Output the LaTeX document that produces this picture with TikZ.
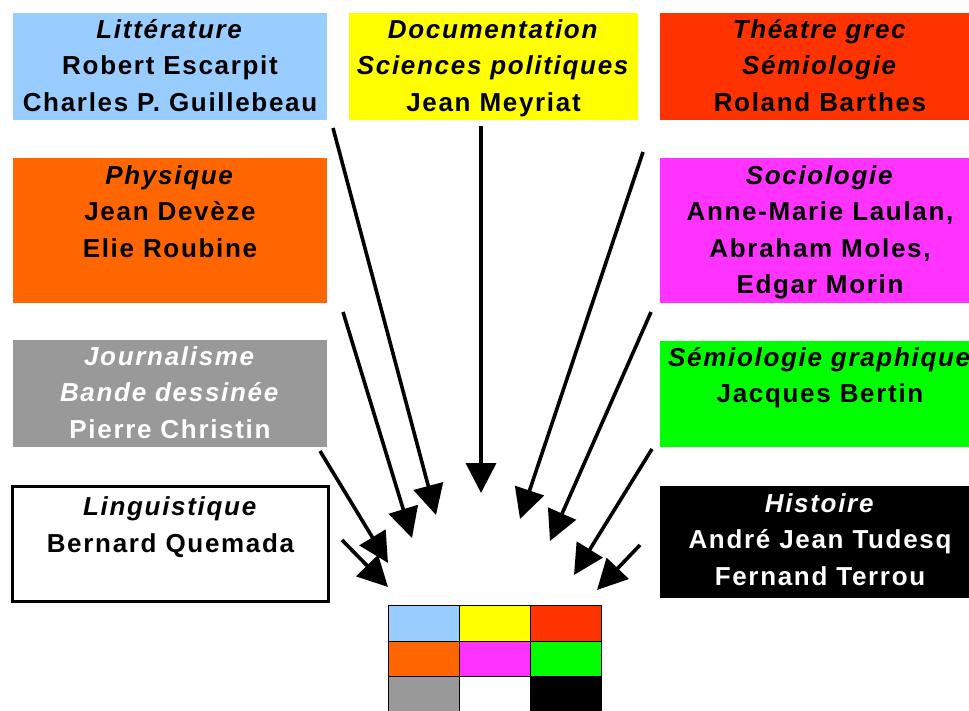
\documentclass[tikz,border=0pt]{standalone}
\usepackage{fontspec}
\setmainfont{Liberation Sans}[LetterSpace=6.5]
\usetikzlibrary{arrows.meta}

\definecolor{litblue}{HTML}{99CCFF}
\definecolor{docyellow}{HTML}{FFFF00}
\definecolor{theared}{HTML}{FF3300}
\definecolor{physorange}{HTML}{FF6600}
\definecolor{sociopink}{HTML}{FF33FF}
\definecolor{semigreen}{HTML}{00FF00}
\definecolor{journgray}{HTML}{999999}

\tikzset{
  panel/.style={fill=#1, draw=none, inner sep=0pt, outer sep=0pt, anchor=north west},
  caption/.style={anchor=north, align=center, inner sep=0pt,
    font=\fontsize{26}{36.5}\selectfont\bfseries,
    execute at begin node=\rule{0pt}{23pt}},
  feed/.style={line width=3.6pt, -{Triangle[length=30pt,width=30pt]}},
  cell/.style={fill=#1, draw=black, line width=1pt, minimum width=71pt,
    minimum height=35.5pt, inner sep=0pt, anchor=north west}
}

\begin{document}
\begin{tikzpicture}[x=1pt,y=-1pt]
\useasboundingbox (0,0) rectangle (969,711);

% discipline panels
\node[panel=litblue, minimum width=314pt, minimum height=107pt] (lit) at (13,13) {};
\node[panel=docyellow, minimum width=289pt, minimum height=107pt] (doc) at (349,13) {};
\node[panel=theared, minimum width=320pt, minimum height=107pt] (the) at (660,13) {};
\node[panel=physorange, minimum width=314pt, minimum height=145pt] (phy) at (13,158) {};
\node[panel=sociopink, minimum width=320pt, minimum height=145pt] (soc) at (660,158) {};
\node[panel=journgray, minimum width=314pt, minimum height=107pt] (jou) at (13,340) {};
\node[panel=semigreen, minimum width=320pt, minimum height=106pt] (sem) at (660,341) {};
\node[panel=white, draw=black, line width=3pt, minimum width=316pt, minimum height=115pt] (lin) at (12.5,486.5) {};
\node[panel=black, minimum width=320pt, minimum height=112pt] (his) at (660,486) {};

% panel texts (first baseline about 24pt below the panel top)
\node[caption] (litT) at ([yshift=-6pt]lit.north) {\textit{Littérature}\\Robert Escarpit\\Charles P. Guillebeau};
\node[caption] (docT) at ([yshift=-6pt]doc.north) {\textit{Documentation}\\\textit{Sciences politiques}\\Jean Meyriat};
\node[caption] (theT) at ([yshift=-6pt]the.north) {\textit{Théatre grec}\\\textit{Sémiologie}\\Roland Barthes};
\node[caption] (phyT) at ([yshift=-7pt]phy.north) {\textit{Physique}\\Jean Devèze\\Elie Roubine};
\node[caption] (socT) at ([yshift=-7pt]soc.north) {\textit{Sociologie}\\Anne-Marie Laulan,\\Abraham Moles,\\Edgar Morin};
\node[caption, text=white] (jouT) at ([yshift=-6pt]jou.north) {\textit{Journalisme}\\\textit{Bande dessinée}\\Pierre Christin};
\node[caption] (semT) at ([yshift=-6pt]sem.north) {\textit{Sémiologie graphique}\\Jacques Bertin};
\node[caption] (linT) at ([yshift=-10pt]lin.north) {\textit{Linguistique}\\Bernard Quemada};
\node[caption, text=white] (hisT) at ([yshift=-7pt]his.north) {\textit{Histoire}\\André Jean Tudesq\\Fernand Terrou};

% colour grid
\node[cell=litblue] (g11) at (388,605) {};
\node[cell=docyellow] (g12) at (459,605) {};
\node[cell=theared] (g13) at (530,605) {};
\node[cell=physorange] (g21) at (388,640.5) {};
\node[cell=sociopink] (g22) at (459,640.5) {};
\node[cell=semigreen] (g23) at (530,640.5) {};
\node[cell=journgray] (g31) at (388,676) {};
\node[cell=white] (g32) at (459,676) {};
\node[cell=black] (g33) at (530,676) {};

% arrow ends
\coordinate (litS) at (333,128);  \coordinate (litE) at (436,515);
\coordinate (docS) at (481,126);  \coordinate (docE) at (481,493);
\coordinate (theS) at (643,152);  \coordinate (theE) at (520,519);
\coordinate (phyS) at (343,312);  \coordinate (phyE) at (412,538);
\coordinate (socS) at (651,312);  \coordinate (socE) at (550,541);
\coordinate (jouS) at (320,451);  \coordinate (jouE) at (388,563);
\coordinate (semS) at (652,449);  \coordinate (semE) at (574,575);
\coordinate (linS) at (342,540);  \coordinate (linE) at (388,587);
\coordinate (hisS) at (640,545);  \coordinate (hisE) at (597,590);

\foreach \k in {lit,doc,the,phy,soc,jou,sem,lin,his}
  \draw[feed] (\k S) -- (\k E);
\end{tikzpicture}
\end{document}
